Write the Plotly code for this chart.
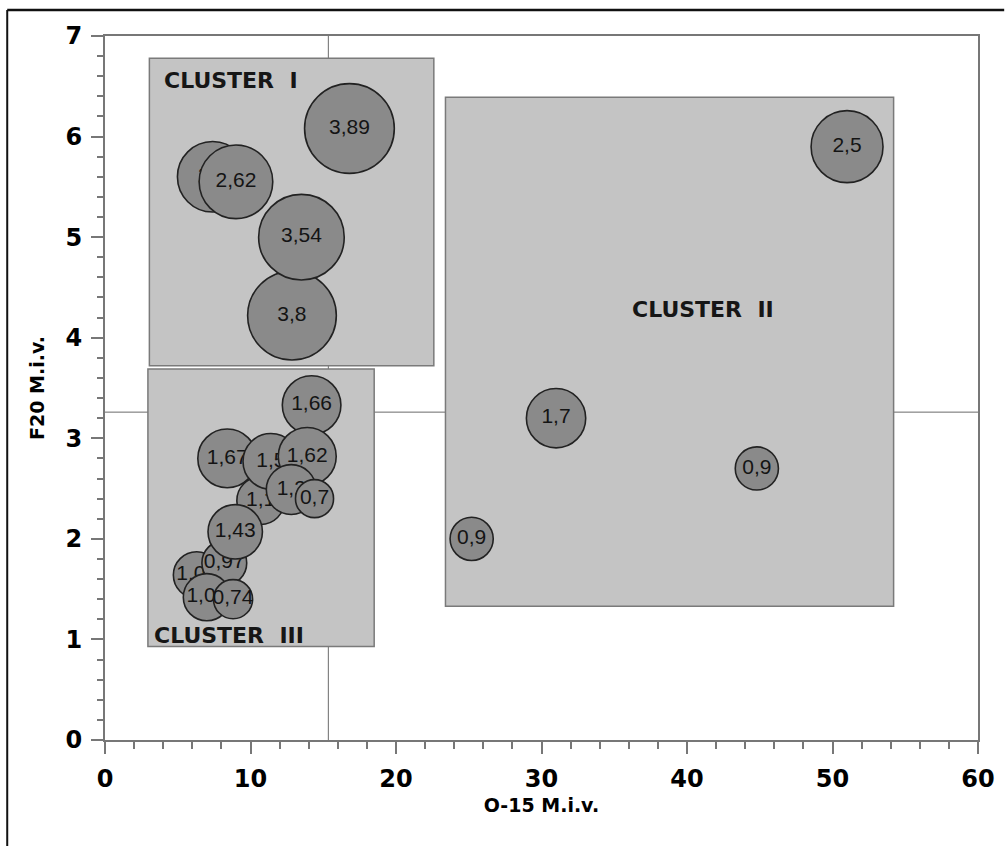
import math
import plotly.graph_objects as go

# O-15 and F20 values per case, listed in the order the bubbles are drawn
o15 = [16.8, 7.4, 9.0, 12.85, 13.5,
       51.0, 31.0, 44.8, 25.2,
       14.2, 8.4, 10.7, 11.4, 13.9, 12.8, 14.4, 6.3, 8.2, 8.95, 7.0, 8.8]
f20 = [6.08, 5.6, 5.55, 4.22, 5.0,
       5.9, 3.2, 2.7, 2.0,
       3.33, 2.8, 2.38, 2.77, 2.82, 2.49, 2.4, 1.64, 1.76, 2.07, 1.42, 1.4]
bubble_values = [3.89, 2.4, 2.62, 3.8, 3.54,
                 2.5, 1.7, 0.9, 0.9,
                 1.66, 1.67, 1.1, 1.5, 1.62, 1.2, 0.7, 1.05, 0.97, 1.43, 1.07, 0.74]

# cluster boxes: name, x0, x1, y0, y1
cluster_names = ["CLUSTER  I", "CLUSTER  II", "CLUSTER  III"]
cluster_x0 = [3.05, 23.4, 2.95]
cluster_x1 = [22.6, 54.2, 18.5]
cluster_y0 = [3.72, 1.33, 0.93]
cluster_y1 = [6.78, 6.39, 3.69]
# label anchor points for each cluster name
cluster_label_x = [3.95, 41.1, 3.2]
cluster_label_y = [6.56, 4.28, 1.04]
cluster_label_anchor = ["left", "center", "left"]

# reference cross lines (medians)
cross_x = 15.35
cross_y = 3.26

x_ticks = [0, 10, 20, 30, 40, 50, 60]
y_ticks = [0, 1, 2, 3, 4, 5, 6, 7]

BUBBLE_SCALE = 45.5  # px diameter per sqrt(unit)


def fmt(v):
    return ("%g" % v).replace(".", ",")


fig = go.Figure()

for xv, yv, val in zip(o15, f20, bubble_values):
    fig.add_trace(go.Scatter(
        x=[xv], y=[yv], mode="markers+text",
        text=[fmt(val)], textposition="middle center",
        textfont=dict(family="Liberation Sans, Arial", size=21, color="#141414"),
        marker=dict(size=BUBBLE_SCALE * math.sqrt(val), color="#8a8a8a",
                    opacity=1, line=dict(color="#222222", width=1.6)),
        showlegend=False, hoverinfo="skip", cliponaxis=False,
    ))

shapes = []
for x0, x1, y0, y1 in zip(cluster_x0, cluster_x1, cluster_y0, cluster_y1):
    shapes.append(dict(type="rect", xref="x", yref="y", x0=x0, x1=x1, y0=y0, y1=y1,
                       fillcolor="#c4c4c4", line=dict(color="#7a7a7a", width=1.5),
                       layer="below"))
shapes.append(dict(type="line", xref="x", yref="paper", x0=cross_x, x1=cross_x, y0=0, y1=1,
                   line=dict(color="#6a6a6a", width=1), layer="below"))
shapes.append(dict(type="line", xref="paper", yref="y", x0=0, x1=1, y0=cross_y, y1=cross_y,
                   line=dict(color="#6a6a6a", width=1), layer="below"))
# outer frame around the figure (top and left edges)
shapes.append(dict(type="line", xref="paper", yref="paper", x0=-0.112, x1=1.03, y0=1.037, y1=1.037,
                   line=dict(color="#111111", width=2.5)))
shapes.append(dict(type="line", xref="paper", yref="paper", x0=-0.112, x1=-0.112, y0=1.037, y1=-0.16,
                   line=dict(color="#111111", width=2)))

annotations = []
for name, lx, ly, anc in zip(cluster_names, cluster_label_x, cluster_label_y, cluster_label_anchor):
    annotations.append(dict(x=lx, y=ly, xref="x", yref="y", text=name, showarrow=False,
                            xanchor=anc, yanchor="middle",
                            font=dict(family="DejaVu Sans", size=22, color="#161616", weight="bold")))

axis_font = dict(family="DejaVu Sans", size=24, color="#000000", weight="bold")
title_font = dict(family="DejaVu Sans", size=19, color="#000000", weight="bold")

fig.update_layout(
    width=1007, height=846,
    margin=dict(l=105, r=24, t=36, b=106),
    paper_bgcolor="white", plot_bgcolor="white",
    shapes=shapes, annotations=annotations,
    xaxis=dict(range=[0, 60], tickvals=x_ticks, showgrid=False, zeroline=False,
               showline=True, linecolor="#777777", linewidth=2, mirror=True,
               ticks="outside", ticklen=12, tickwidth=2, tickcolor="#777777",
               minor=dict(dtick=2, ticks="outside", ticklen=7, tickwidth=1.5, tickcolor="#777777"),
               tickfont=axis_font, ticklabelstandoff=4,
               title=dict(text="O-15 M.i.v.", font=title_font, standoff=7)),
    yaxis=dict(range=[0, 7], tickvals=y_ticks, showgrid=False, zeroline=False,
               showline=True, linecolor="#777777", linewidth=2, mirror=True,
               ticks="outside", ticklen=12, tickwidth=2, tickcolor="#777777",
               minor=dict(dtick=0.2, ticks="outside", ticklen=6, tickwidth=1.5, tickcolor="#777777"),
               tickfont=axis_font, ticklabelstandoff=4,
               title=dict(text="F20 M.i.v.", font=title_font, standoff=16)),
)

fig.write_html("out.html")
